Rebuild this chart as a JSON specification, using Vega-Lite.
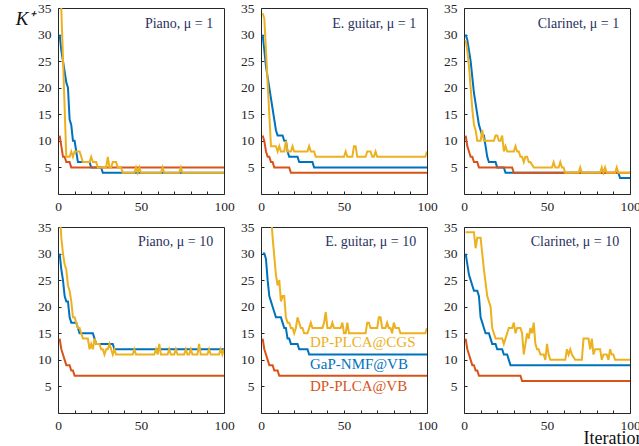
{
  "$schema": "https://vega.github.io/schema/vega-lite/v6.json",
  "padding": {"left": 14, "top": 0, "right": 0, "bottom": 0},
  "background": "white",
  "config": {
    "font": "Liberation Serif",
    "view": {"stroke": "#262626", "strokeWidth": 1},
    "axis": {"grid": false, "domain": false, "ticks": true, "tickColor": "#262626", "tickSize": -3, "labelColor": "#262626", "labelFont": "Liberation Serif", "labelFontSize": 13.5, "labelFlush": false, "labelOverlap": false, "labelBound": false, "title": null, "labelPadding": 10},
    "axisX": {"labelPadding": 8},
    "line": {"strokeWidth": 2, "clip": true},
    "text": {"font": "Liberation Serif"}
  },
  "datasets": {
    "k": [
      {"p":1,"s":"GaP","x":1,"y":30},{"p":1,"s":"GaP","x":2,"y":27},{"p":1,"s":"GaP","x":3,"y":25},{"p":1,"s":"GaP","x":4,"y":23},{"p":1,"s":"GaP","x":5,"y":21},{"p":1,"s":"GaP","x":6,"y":20},{"p":1,"s":"GaP","x":7,"y":14},{"p":1,"s":"GaP","x":8,"y":13},{"p":1,"s":"GaP","x":9,"y":10},{"p":1,"s":"GaP","x":10,"y":10},{"p":1,"s":"GaP","x":11,"y":8},{"p":1,"s":"GaP","x":12,"y":6},{"p":1,"s":"GaP","x":19,"y":6},{"p":1,"s":"GaP","x":20,"y":5},{"p":1,"s":"GaP","x":26,"y":5},{"p":1,"s":"GaP","x":27,"y":4},{"p":1,"s":"GaP","x":100,"y":4},
      {"p":1,"s":"VB","x":1,"y":11},{"p":1,"s":"VB","x":2,"y":9},{"p":1,"s":"VB","x":3,"y":7},{"p":1,"s":"VB","x":4,"y":7},{"p":1,"s":"VB","x":5,"y":6},{"p":1,"s":"VB","x":7,"y":6},{"p":1,"s":"VB","x":8,"y":5},{"p":1,"s":"VB","x":100,"y":5},
      {"p":1,"s":"CGS","x":1,"y":44},{"p":1,"s":"CGS","x":5,"y":7},{"p":1,"s":"CGS","x":7,"y":7},{"p":1,"s":"CGS","x":8,"y":8},{"p":1,"s":"CGS","x":9,"y":7},{"p":1,"s":"CGS","x":10,"y":8},{"p":1,"s":"CGS","x":13,"y":8},{"p":1,"s":"CGS","x":14,"y":7},{"p":1,"s":"CGS","x":15,"y":6},{"p":1,"s":"CGS","x":19,"y":6},{"p":1,"s":"CGS","x":20,"y":7},{"p":1,"s":"CGS","x":21,"y":6},{"p":1,"s":"CGS","x":23,"y":6},{"p":1,"s":"CGS","x":24,"y":5},{"p":1,"s":"CGS","x":29,"y":5},{"p":1,"s":"CGS","x":30,"y":7},{"p":1,"s":"CGS","x":31,"y":5},{"p":1,"s":"CGS","x":32,"y":5},{"p":1,"s":"CGS","x":33,"y":6},{"p":1,"s":"CGS","x":35,"y":6},{"p":1,"s":"CGS","x":36,"y":5},{"p":1,"s":"CGS","x":38,"y":5},{"p":1,"s":"CGS","x":39,"y":4},{"p":1,"s":"CGS","x":46,"y":4},{"p":1,"s":"CGS","x":47,"y":5},{"p":1,"s":"CGS","x":48,"y":4},{"p":1,"s":"CGS","x":49,"y":5},{"p":1,"s":"CGS","x":50,"y":4},{"p":1,"s":"CGS","x":62,"y":4},{"p":1,"s":"CGS","x":63,"y":5},{"p":1,"s":"CGS","x":64,"y":4},{"p":1,"s":"CGS","x":73,"y":4},{"p":1,"s":"CGS","x":74,"y":5},{"p":1,"s":"CGS","x":75,"y":4},{"p":1,"s":"CGS","x":100,"y":4},

      {"p":2,"s":"GaP","x":1,"y":30},{"p":2,"s":"GaP","x":2,"y":27},{"p":2,"s":"GaP","x":3,"y":24},{"p":2,"s":"GaP","x":4,"y":22},{"p":2,"s":"GaP","x":5,"y":20},{"p":2,"s":"GaP","x":6,"y":18},{"p":2,"s":"GaP","x":7,"y":16},{"p":2,"s":"GaP","x":8,"y":14},{"p":2,"s":"GaP","x":9,"y":12},{"p":2,"s":"GaP","x":10,"y":11},{"p":2,"s":"GaP","x":13,"y":11},{"p":2,"s":"GaP","x":14,"y":10},{"p":2,"s":"GaP","x":15,"y":10},{"p":2,"s":"GaP","x":16,"y":8},{"p":2,"s":"GaP","x":17,"y":7},{"p":2,"s":"GaP","x":22,"y":7},{"p":2,"s":"GaP","x":23,"y":6},{"p":2,"s":"GaP","x":31,"y":6},{"p":2,"s":"GaP","x":32,"y":5},{"p":2,"s":"GaP","x":100,"y":5},
      {"p":2,"s":"VB","x":1,"y":11},{"p":2,"s":"VB","x":2,"y":10},{"p":2,"s":"VB","x":3,"y":8},{"p":2,"s":"VB","x":4,"y":7},{"p":2,"s":"VB","x":5,"y":7},{"p":2,"s":"VB","x":6,"y":6},{"p":2,"s":"VB","x":7,"y":6},{"p":2,"s":"VB","x":8,"y":5},{"p":2,"s":"VB","x":17,"y":5},{"p":2,"s":"VB","x":18,"y":4},{"p":2,"s":"VB","x":100,"y":4},
      {"p":2,"s":"CGS","x":1,"y":34},{"p":2,"s":"CGS","x":2,"y":33},{"p":2,"s":"CGS","x":6,"y":9},{"p":2,"s":"CGS","x":9,"y":9},{"p":2,"s":"CGS","x":10,"y":8},{"p":2,"s":"CGS","x":11,"y":9},{"p":2,"s":"CGS","x":12,"y":8},{"p":2,"s":"CGS","x":14,"y":8},{"p":2,"s":"CGS","x":15,"y":10},{"p":2,"s":"CGS","x":16,"y":8},{"p":2,"s":"CGS","x":18,"y":8},{"p":2,"s":"CGS","x":19,"y":9},{"p":2,"s":"CGS","x":20,"y":8},{"p":2,"s":"CGS","x":28,"y":8},{"p":2,"s":"CGS","x":29,"y":9},{"p":2,"s":"CGS","x":30,"y":8},{"p":2,"s":"CGS","x":32,"y":8},{"p":2,"s":"CGS","x":33,"y":7},{"p":2,"s":"CGS","x":50,"y":7},{"p":2,"s":"CGS","x":51,"y":8},{"p":2,"s":"CGS","x":52,"y":7},{"p":2,"s":"CGS","x":55,"y":7},{"p":2,"s":"CGS","x":56,"y":9},{"p":2,"s":"CGS","x":57,"y":9},{"p":2,"s":"CGS","x":58,"y":7},{"p":2,"s":"CGS","x":63,"y":7},{"p":2,"s":"CGS","x":64,"y":8},{"p":2,"s":"CGS","x":66,"y":8},{"p":2,"s":"CGS","x":67,"y":7},{"p":2,"s":"CGS","x":68,"y":7},{"p":2,"s":"CGS","x":69,"y":8},{"p":2,"s":"CGS","x":70,"y":7},{"p":2,"s":"CGS","x":99,"y":7},{"p":2,"s":"CGS","x":100,"y":8},

      {"p":3,"s":"GaP","x":1,"y":30},{"p":3,"s":"GaP","x":2,"y":29},{"p":3,"s":"GaP","x":3,"y":27},{"p":3,"s":"GaP","x":4,"y":25},{"p":3,"s":"GaP","x":5,"y":22},{"p":3,"s":"GaP","x":6,"y":19},{"p":3,"s":"GaP","x":7,"y":17},{"p":3,"s":"GaP","x":8,"y":15},{"p":3,"s":"GaP","x":9,"y":13},{"p":3,"s":"GaP","x":10,"y":12},{"p":3,"s":"GaP","x":11,"y":11},{"p":3,"s":"GaP","x":12,"y":11},{"p":3,"s":"GaP","x":13,"y":9},{"p":3,"s":"GaP","x":14,"y":7},{"p":3,"s":"GaP","x":15,"y":6},{"p":3,"s":"GaP","x":19,"y":6},{"p":3,"s":"GaP","x":20,"y":5},{"p":3,"s":"GaP","x":24,"y":5},{"p":3,"s":"GaP","x":25,"y":4},{"p":3,"s":"GaP","x":93,"y":4},{"p":3,"s":"GaP","x":94,"y":3},{"p":3,"s":"GaP","x":100,"y":3},
      {"p":3,"s":"VB","x":1,"y":11},{"p":3,"s":"VB","x":2,"y":9},{"p":3,"s":"VB","x":3,"y":8},{"p":3,"s":"VB","x":4,"y":7},{"p":3,"s":"VB","x":5,"y":7},{"p":3,"s":"VB","x":6,"y":6},{"p":3,"s":"VB","x":8,"y":6},{"p":3,"s":"VB","x":9,"y":5},{"p":3,"s":"VB","x":29,"y":5},{"p":3,"s":"VB","x":30,"y":4},{"p":3,"s":"VB","x":100,"y":4},
      {"p":3,"s":"CGS","x":1,"y":29},{"p":3,"s":"CGS","x":2,"y":27},{"p":3,"s":"CGS","x":3,"y":24},{"p":3,"s":"CGS","x":4,"y":20},{"p":3,"s":"CGS","x":5,"y":16},{"p":3,"s":"CGS","x":6,"y":13},{"p":3,"s":"CGS","x":7,"y":12},{"p":3,"s":"CGS","x":8,"y":10},{"p":3,"s":"CGS","x":10,"y":10},{"p":3,"s":"CGS","x":11,"y":12},{"p":3,"s":"CGS","x":12,"y":10},{"p":3,"s":"CGS","x":18,"y":10},{"p":3,"s":"CGS","x":19,"y":11},{"p":3,"s":"CGS","x":20,"y":11},{"p":3,"s":"CGS","x":21,"y":10},{"p":3,"s":"CGS","x":22,"y":10},{"p":3,"s":"CGS","x":23,"y":11},{"p":3,"s":"CGS","x":24,"y":8},{"p":3,"s":"CGS","x":25,"y":9},{"p":3,"s":"CGS","x":26,"y":8},{"p":3,"s":"CGS","x":30,"y":8},{"p":3,"s":"CGS","x":31,"y":9},{"p":3,"s":"CGS","x":32,"y":8},{"p":3,"s":"CGS","x":33,"y":8},{"p":3,"s":"CGS","x":34,"y":7},{"p":3,"s":"CGS","x":35,"y":7},{"p":3,"s":"CGS","x":36,"y":6},{"p":3,"s":"CGS","x":37,"y":7},{"p":3,"s":"CGS","x":38,"y":7},{"p":3,"s":"CGS","x":39,"y":6},{"p":3,"s":"CGS","x":40,"y":6},{"p":3,"s":"CGS","x":42,"y":5},{"p":3,"s":"CGS","x":53,"y":5},{"p":3,"s":"CGS","x":54,"y":6},{"p":3,"s":"CGS","x":55,"y":5},{"p":3,"s":"CGS","x":57,"y":5},{"p":3,"s":"CGS","x":58,"y":6},{"p":3,"s":"CGS","x":59,"y":5},{"p":3,"s":"CGS","x":60,"y":5},{"p":3,"s":"CGS","x":61,"y":4},{"p":3,"s":"CGS","x":69,"y":4},{"p":3,"s":"CGS","x":70,"y":5},{"p":3,"s":"CGS","x":71,"y":4},{"p":3,"s":"CGS","x":82,"y":4},{"p":3,"s":"CGS","x":83,"y":5},{"p":3,"s":"CGS","x":84,"y":4},{"p":3,"s":"CGS","x":85,"y":5},{"p":3,"s":"CGS","x":86,"y":4},{"p":3,"s":"CGS","x":91,"y":4},{"p":3,"s":"CGS","x":92,"y":5},{"p":3,"s":"CGS","x":93,"y":4},{"p":3,"s":"CGS","x":100,"y":4},

      {"p":4,"s":"GaP","x":1,"y":30},{"p":4,"s":"GaP","x":2,"y":27},{"p":4,"s":"GaP","x":3,"y":25},{"p":4,"s":"GaP","x":4,"y":22},{"p":4,"s":"GaP","x":5,"y":21},{"p":4,"s":"GaP","x":6,"y":21},{"p":4,"s":"GaP","x":7,"y":18},{"p":4,"s":"GaP","x":8,"y":17},{"p":4,"s":"GaP","x":11,"y":17},{"p":4,"s":"GaP","x":12,"y":16},{"p":4,"s":"GaP","x":13,"y":15},{"p":4,"s":"GaP","x":21,"y":15},{"p":4,"s":"GaP","x":22,"y":14},{"p":4,"s":"GaP","x":23,"y":13},{"p":4,"s":"GaP","x":33,"y":13},{"p":4,"s":"GaP","x":34,"y":12},{"p":4,"s":"GaP","x":100,"y":12},
      {"p":4,"s":"VB","x":1,"y":14},{"p":4,"s":"VB","x":2,"y":12},{"p":4,"s":"VB","x":3,"y":11},{"p":4,"s":"VB","x":4,"y":10},{"p":4,"s":"VB","x":5,"y":9},{"p":4,"s":"VB","x":7,"y":9},{"p":4,"s":"VB","x":8,"y":8},{"p":4,"s":"VB","x":9,"y":8},{"p":4,"s":"VB","x":10,"y":7},{"p":4,"s":"VB","x":100,"y":7},
      {"p":4,"s":"CGS","x":1,"y":38},{"p":4,"s":"CGS","x":2,"y":33},{"p":4,"s":"CGS","x":3,"y":30},{"p":4,"s":"CGS","x":4,"y":28},{"p":4,"s":"CGS","x":5,"y":27},{"p":4,"s":"CGS","x":6,"y":24},{"p":4,"s":"CGS","x":7,"y":23},{"p":4,"s":"CGS","x":8,"y":21},{"p":4,"s":"CGS","x":9,"y":18},{"p":4,"s":"CGS","x":10,"y":18},{"p":4,"s":"CGS","x":11,"y":17},{"p":4,"s":"CGS","x":12,"y":16},{"p":4,"s":"CGS","x":13,"y":16},{"p":4,"s":"CGS","x":14,"y":15},{"p":4,"s":"CGS","x":15,"y":14},{"p":4,"s":"CGS","x":18,"y":14},{"p":4,"s":"CGS","x":19,"y":12},{"p":4,"s":"CGS","x":20,"y":13},{"p":4,"s":"CGS","x":21,"y":12},{"p":4,"s":"CGS","x":22,"y":14},{"p":4,"s":"CGS","x":23,"y":13},{"p":4,"s":"CGS","x":25,"y":13},{"p":4,"s":"CGS","x":26,"y":12},{"p":4,"s":"CGS","x":27,"y":12},{"p":4,"s":"CGS","x":28,"y":11},{"p":4,"s":"CGS","x":29,"y":12},{"p":4,"s":"CGS","x":30,"y":12},{"p":4,"s":"CGS","x":31,"y":13},{"p":4,"s":"CGS","x":32,"y":12},{"p":4,"s":"CGS","x":33,"y":11},{"p":4,"s":"CGS","x":34,"y":12},{"p":4,"s":"CGS","x":35,"y":11},{"p":4,"s":"CGS","x":45,"y":11},{"p":4,"s":"CGS","x":46,"y":12},{"p":4,"s":"CGS","x":47,"y":11},{"p":4,"s":"CGS","x":58,"y":11},{"p":4,"s":"CGS","x":59,"y":12},{"p":4,"s":"CGS","x":60,"y":11},{"p":4,"s":"CGS","x":61,"y":13},{"p":4,"s":"CGS","x":62,"y":11},{"p":4,"s":"CGS","x":66,"y":11},{"p":4,"s":"CGS","x":67,"y":12},{"p":4,"s":"CGS","x":68,"y":11},{"p":4,"s":"CGS","x":70,"y":11},{"p":4,"s":"CGS","x":71,"y":12},{"p":4,"s":"CGS","x":72,"y":11},{"p":4,"s":"CGS","x":76,"y":11},{"p":4,"s":"CGS","x":77,"y":12},{"p":4,"s":"CGS","x":78,"y":11},{"p":4,"s":"CGS","x":79,"y":11},{"p":4,"s":"CGS","x":80,"y":12},{"p":4,"s":"CGS","x":81,"y":11},{"p":4,"s":"CGS","x":84,"y":11},{"p":4,"s":"CGS","x":85,"y":13},{"p":4,"s":"CGS","x":86,"y":11},{"p":4,"s":"CGS","x":90,"y":11},{"p":4,"s":"CGS","x":91,"y":12},{"p":4,"s":"CGS","x":92,"y":11},{"p":4,"s":"CGS","x":97,"y":11},{"p":4,"s":"CGS","x":98,"y":12},{"p":4,"s":"CGS","x":99,"y":11},{"p":4,"s":"CGS","x":100,"y":12},

      {"p":5,"s":"GaP","x":1,"y":30},{"p":5,"s":"GaP","x":2,"y":30},{"p":5,"s":"GaP","x":3,"y":29},{"p":5,"s":"GaP","x":4,"y":25},{"p":5,"s":"GaP","x":5,"y":22},{"p":5,"s":"GaP","x":6,"y":21},{"p":5,"s":"GaP","x":7,"y":20},{"p":5,"s":"GaP","x":8,"y":19},{"p":5,"s":"GaP","x":9,"y":18},{"p":5,"s":"GaP","x":12,"y":18},{"p":5,"s":"GaP","x":13,"y":17},{"p":5,"s":"GaP","x":14,"y":16},{"p":5,"s":"GaP","x":15,"y":16},{"p":5,"s":"GaP","x":16,"y":14},{"p":5,"s":"GaP","x":17,"y":14},{"p":5,"s":"GaP","x":18,"y":13},{"p":5,"s":"GaP","x":22,"y":13},{"p":5,"s":"GaP","x":23,"y":12},{"p":5,"s":"GaP","x":28,"y":12},{"p":5,"s":"GaP","x":29,"y":11},{"p":5,"s":"GaP","x":100,"y":11},
      {"p":5,"s":"VB","x":1,"y":14},{"p":5,"s":"VB","x":2,"y":12},{"p":5,"s":"VB","x":3,"y":11},{"p":5,"s":"VB","x":4,"y":10},{"p":5,"s":"VB","x":5,"y":9},{"p":5,"s":"VB","x":7,"y":9},{"p":5,"s":"VB","x":8,"y":8},{"p":5,"s":"VB","x":10,"y":8},{"p":5,"s":"VB","x":11,"y":7},{"p":5,"s":"VB","x":100,"y":7},
      {"p":5,"s":"CGS","x":5,"y":42},{"p":5,"s":"CGS","x":7,"y":33},{"p":5,"s":"CGS","x":9,"y":26},{"p":5,"s":"CGS","x":10,"y":24},{"p":5,"s":"CGS","x":11,"y":25},{"p":5,"s":"CGS","x":12,"y":21},{"p":5,"s":"CGS","x":13,"y":22},{"p":5,"s":"CGS","x":14,"y":22},{"p":5,"s":"CGS","x":15,"y":18},{"p":5,"s":"CGS","x":16,"y":17},{"p":5,"s":"CGS","x":17,"y":17},{"p":5,"s":"CGS","x":18,"y":16},{"p":5,"s":"CGS","x":19,"y":16},{"p":5,"s":"CGS","x":20,"y":15},{"p":5,"s":"CGS","x":21,"y":16},{"p":5,"s":"CGS","x":22,"y":18},{"p":5,"s":"CGS","x":23,"y":17},{"p":5,"s":"CGS","x":24,"y":16},{"p":5,"s":"CGS","x":25,"y":16},{"p":5,"s":"CGS","x":26,"y":15},{"p":5,"s":"CGS","x":28,"y":15},{"p":5,"s":"CGS","x":29,"y":16},{"p":5,"s":"CGS","x":30,"y":17},{"p":5,"s":"CGS","x":31,"y":16},{"p":5,"s":"CGS","x":37,"y":16},{"p":5,"s":"CGS","x":38,"y":17},{"p":5,"s":"CGS","x":39,"y":19},{"p":5,"s":"CGS","x":40,"y":16},{"p":5,"s":"CGS","x":42,"y":16},{"p":5,"s":"CGS","x":43,"y":17},{"p":5,"s":"CGS","x":44,"y":16},{"p":5,"s":"CGS","x":48,"y":16},{"p":5,"s":"CGS","x":49,"y":17},{"p":5,"s":"CGS","x":50,"y":15},{"p":5,"s":"CGS","x":51,"y":15},{"p":5,"s":"CGS","x":52,"y":17},{"p":5,"s":"CGS","x":53,"y":15},{"p":5,"s":"CGS","x":63,"y":15},{"p":5,"s":"CGS","x":64,"y":17},{"p":5,"s":"CGS","x":65,"y":17},{"p":5,"s":"CGS","x":66,"y":16},{"p":5,"s":"CGS","x":70,"y":16},{"p":5,"s":"CGS","x":71,"y":18},{"p":5,"s":"CGS","x":72,"y":18},{"p":5,"s":"CGS","x":73,"y":16},{"p":5,"s":"CGS","x":75,"y":16},{"p":5,"s":"CGS","x":76,"y":17},{"p":5,"s":"CGS","x":77,"y":16},{"p":5,"s":"CGS","x":78,"y":16},{"p":5,"s":"CGS","x":79,"y":15},{"p":5,"s":"CGS","x":80,"y":17},{"p":5,"s":"CGS","x":81,"y":16},{"p":5,"s":"CGS","x":83,"y":16},{"p":5,"s":"CGS","x":84,"y":15},{"p":5,"s":"CGS","x":99,"y":15},{"p":5,"s":"CGS","x":100,"y":16},

      {"p":6,"s":"GaP","x":1,"y":30},{"p":6,"s":"GaP","x":2,"y":28},{"p":6,"s":"GaP","x":3,"y":26},{"p":6,"s":"GaP","x":4,"y":25},{"p":6,"s":"GaP","x":5,"y":24},{"p":6,"s":"GaP","x":6,"y":23},{"p":6,"s":"GaP","x":8,"y":23},{"p":6,"s":"GaP","x":9,"y":22},{"p":6,"s":"GaP","x":10,"y":18},{"p":6,"s":"GaP","x":11,"y":17},{"p":6,"s":"GaP","x":12,"y":16},{"p":6,"s":"GaP","x":13,"y":15},{"p":6,"s":"GaP","x":15,"y":15},{"p":6,"s":"GaP","x":16,"y":14},{"p":6,"s":"GaP","x":17,"y":13},{"p":6,"s":"GaP","x":19,"y":13},{"p":6,"s":"GaP","x":20,"y":12},{"p":6,"s":"GaP","x":23,"y":12},{"p":6,"s":"GaP","x":24,"y":11},{"p":6,"s":"GaP","x":26,"y":11},{"p":6,"s":"GaP","x":27,"y":10},{"p":6,"s":"GaP","x":28,"y":9},{"p":6,"s":"GaP","x":100,"y":9},
      {"p":6,"s":"VB","x":1,"y":14},{"p":6,"s":"VB","x":2,"y":12},{"p":6,"s":"VB","x":3,"y":11},{"p":6,"s":"VB","x":4,"y":10},{"p":6,"s":"VB","x":5,"y":9},{"p":6,"s":"VB","x":6,"y":9},{"p":6,"s":"VB","x":7,"y":8},{"p":6,"s":"VB","x":8,"y":8},{"p":6,"s":"VB","x":9,"y":7},{"p":6,"s":"VB","x":34,"y":7},{"p":6,"s":"VB","x":35,"y":6},{"p":6,"s":"VB","x":100,"y":6},
      {"p":6,"s":"CGS","x":1,"y":34},{"p":6,"s":"CGS","x":6,"y":34},{"p":6,"s":"CGS","x":7,"y":31},{"p":6,"s":"CGS","x":8,"y":33},{"p":6,"s":"CGS","x":10,"y":33},{"p":6,"s":"CGS","x":12,"y":27},{"p":6,"s":"CGS","x":14,"y":22},{"p":6,"s":"CGS","x":16,"y":20},{"p":6,"s":"CGS","x":17,"y":16},{"p":6,"s":"CGS","x":18,"y":15},{"p":6,"s":"CGS","x":19,"y":14},{"p":6,"s":"CGS","x":23,"y":14},{"p":6,"s":"CGS","x":24,"y":13},{"p":6,"s":"CGS","x":25,"y":14},{"p":6,"s":"CGS","x":26,"y":15},{"p":6,"s":"CGS","x":27,"y":16},{"p":6,"s":"CGS","x":29,"y":16},{"p":6,"s":"CGS","x":30,"y":17},{"p":6,"s":"CGS","x":31,"y":15},{"p":6,"s":"CGS","x":32,"y":16},{"p":6,"s":"CGS","x":34,"y":16},{"p":6,"s":"CGS","x":35,"y":15},{"p":6,"s":"CGS","x":36,"y":11},{"p":6,"s":"CGS","x":37,"y":13},{"p":6,"s":"CGS","x":38,"y":15},{"p":6,"s":"CGS","x":39,"y":14},{"p":6,"s":"CGS","x":40,"y":16},{"p":6,"s":"CGS","x":41,"y":15},{"p":6,"s":"CGS","x":42,"y":17},{"p":6,"s":"CGS","x":43,"y":13},{"p":6,"s":"CGS","x":44,"y":12},{"p":6,"s":"CGS","x":45,"y":12},{"p":6,"s":"CGS","x":46,"y":11},{"p":6,"s":"CGS","x":48,"y":11},{"p":6,"s":"CGS","x":49,"y":10},{"p":6,"s":"CGS","x":50,"y":13},{"p":6,"s":"CGS","x":51,"y":11},{"p":6,"s":"CGS","x":52,"y":10},{"p":6,"s":"CGS","x":61,"y":10},{"p":6,"s":"CGS","x":62,"y":12},{"p":6,"s":"CGS","x":63,"y":11},{"p":6,"s":"CGS","x":64,"y":12},{"p":6,"s":"CGS","x":65,"y":11},{"p":6,"s":"CGS","x":67,"y":10},{"p":6,"s":"CGS","x":71,"y":10},{"p":6,"s":"CGS","x":72,"y":14},{"p":6,"s":"CGS","x":75,"y":14},{"p":6,"s":"CGS","x":76,"y":12},{"p":6,"s":"CGS","x":77,"y":14},{"p":6,"s":"CGS","x":78,"y":11},{"p":6,"s":"CGS","x":79,"y":12},{"p":6,"s":"CGS","x":82,"y":12},{"p":6,"s":"CGS","x":83,"y":10},{"p":6,"s":"CGS","x":84,"y":11},{"p":6,"s":"CGS","x":86,"y":11},{"p":6,"s":"CGS","x":87,"y":10},{"p":6,"s":"CGS","x":88,"y":12},{"p":6,"s":"CGS","x":89,"y":11},{"p":6,"s":"CGS","x":90,"y":11},{"p":6,"s":"CGS","x":91,"y":10},{"p":6,"s":"CGS","x":100,"y":10}
    ]
  },
  "data": {"name": "k"},
  "spacing": 6,
  "vconcat": [
    {
      "spacing": 37,
      "bounds": "flush",
      "hconcat": [
        {
          "width": 166, "height": 186,
          "layer": [
            {
              "transform": [{"filter": "datum.p == 1"}],
              "mark": {"type": "line", "clip": true, "strokeWidth": 2},
              "encoding": {
                "x": {"field": "x", "type": "quantitative", "scale": {"domain": [0, 100], "nice": false}, "axis": {"values": [0,10,20,30,40,50,60,70,80,90,100], "tickCount": 30, "labelOverlap": false, "labelExpr": "(datum.value == 0 || datum.value == 50 || datum.value == 100) ? datum.label : ''"}},
                "y": {"field": "y", "type": "quantitative", "scale": {"domain": [0, 35], "nice": false}, "axis": {"values": [5,10,15,20,25,30,35], "tickCount": 30, "labelOverlap": false, "title": "K⁺", "titleAngle": 0, "titleFont": "Liberation Serif", "titleFontStyle": "italic", "titleFontWeight": "normal", "titleFontSize": 19, "titleColor": "#111111", "titleAlign": "right", "titleBaseline": "middle", "titleX": -24, "titleY": 10}},
                "color": {"field": "s", "type": "nominal", "scale": {"domain": ["GaP", "VB", "CGS"], "range": ["#0072BD", "#D95319", "#EDB120"]}, "legend": null}
              }
            },
            {
              "data": {"values": [{"t": "Piano, μ = 1", "x": 93.5, "y": 32}]},
              "mark": {"type": "text", "align": "right", "baseline": "middle", "fontSize": 14, "color": "#2b3160"},
              "encoding": {"x": {"field": "x", "type": "quantitative"}, "y": {"field": "y", "type": "quantitative"}, "text": {"field": "t"}}
            }
          ]
        },
        {
          "width": 166, "height": 186,
          "layer": [
            {
              "transform": [{"filter": "datum.p == 2"}],
              "mark": {"type": "line", "clip": true, "strokeWidth": 2},
              "encoding": {
                "x": {"field": "x", "type": "quantitative", "scale": {"domain": [0, 100], "nice": false}, "axis": {"values": [0,10,20,30,40,50,60,70,80,90,100], "tickCount": 30, "labelOverlap": false, "labelExpr": "(datum.value == 0 || datum.value == 50 || datum.value == 100) ? datum.label : ''"}},
                "y": {"field": "y", "type": "quantitative", "scale": {"domain": [0, 35], "nice": false}, "axis": {"values": [5,10,15,20,25,30,35], "tickCount": 30, "labelOverlap": false}},
                "color": {"field": "s", "type": "nominal", "scale": {"domain": ["GaP", "VB", "CGS"], "range": ["#0072BD", "#D95319", "#EDB120"]}, "legend": null}
              }
            },
            {
              "data": {"values": [{"t": "E. guitar, μ = 1", "x": 93.5, "y": 32}]},
              "mark": {"type": "text", "align": "right", "baseline": "middle", "fontSize": 14, "color": "#2b3160"},
              "encoding": {"x": {"field": "x", "type": "quantitative"}, "y": {"field": "y", "type": "quantitative"}, "text": {"field": "t"}}
            }
          ]
        },
        {
          "width": 166, "height": 186,
          "layer": [
            {
              "transform": [{"filter": "datum.p == 3"}],
              "mark": {"type": "line", "clip": true, "strokeWidth": 2},
              "encoding": {
                "x": {"field": "x", "type": "quantitative", "scale": {"domain": [0, 100], "nice": false}, "axis": {"values": [0,10,20,30,40,50,60,70,80,90,100], "tickCount": 30, "labelOverlap": false, "labelExpr": "(datum.value == 0 || datum.value == 50 || datum.value == 100) ? datum.label : ''"}},
                "y": {"field": "y", "type": "quantitative", "scale": {"domain": [0, 35], "nice": false}, "axis": {"values": [5,10,15,20,25,30,35], "tickCount": 30, "labelOverlap": false}},
                "color": {"field": "s", "type": "nominal", "scale": {"domain": ["GaP", "VB", "CGS"], "range": ["#0072BD", "#D95319", "#EDB120"]}, "legend": null}
              }
            },
            {
              "data": {"values": [{"t": "Clarinet, μ = 1", "x": 93.5, "y": 32}]},
              "mark": {"type": "text", "align": "right", "baseline": "middle", "fontSize": 14, "color": "#2b3160"},
              "encoding": {"x": {"field": "x", "type": "quantitative"}, "y": {"field": "y", "type": "quantitative"}, "text": {"field": "t"}}
            }
          ]
        }
      ]
    },
    {
      "spacing": 37,
      "bounds": "flush",
      "hconcat": [
        {
          "width": 166, "height": 186,
          "layer": [
            {
              "transform": [{"filter": "datum.p == 4"}],
              "mark": {"type": "line", "clip": true, "strokeWidth": 2},
              "encoding": {
                "x": {"field": "x", "type": "quantitative", "scale": {"domain": [0, 100], "nice": false}, "axis": {"values": [0,10,20,30,40,50,60,70,80,90,100], "tickCount": 30, "labelOverlap": false, "labelExpr": "(datum.value == 0 || datum.value == 50 || datum.value == 100) ? datum.label : ''"}},
                "y": {"field": "y", "type": "quantitative", "scale": {"domain": [0, 35], "nice": false}, "axis": {"values": [5,10,15,20,25,30,35], "tickCount": 30, "labelOverlap": false}},
                "color": {"field": "s", "type": "nominal", "scale": {"domain": ["GaP", "VB", "CGS"], "range": ["#0072BD", "#D95319", "#EDB120"]}, "legend": null}
              }
            },
            {
              "data": {"values": [{"t": "Piano, μ = 10", "x": 93.5, "y": 32.2}]},
              "mark": {"type": "text", "align": "right", "baseline": "middle", "fontSize": 14, "color": "#2b3160"},
              "encoding": {"x": {"field": "x", "type": "quantitative"}, "y": {"field": "y", "type": "quantitative"}, "text": {"field": "t"}}
            }
          ]
        },
        {
          "width": 166, "height": 186,
          "layer": [
            {
              "transform": [{"filter": "datum.p == 5"}],
              "mark": {"type": "line", "clip": true, "strokeWidth": 2},
              "encoding": {
                "x": {"field": "x", "type": "quantitative", "scale": {"domain": [0, 100], "nice": false}, "axis": {"values": [0,10,20,30,40,50,60,70,80,90,100], "tickCount": 30, "labelOverlap": false, "labelExpr": "(datum.value == 0 || datum.value == 50 || datum.value == 100) ? datum.label : ''"}},
                "y": {"field": "y", "type": "quantitative", "scale": {"domain": [0, 35], "nice": false}, "axis": {"values": [5,10,15,20,25,30,35], "tickCount": 30, "labelOverlap": false}},
                "color": {"field": "s", "type": "nominal", "scale": {"domain": ["GaP", "VB", "CGS"], "range": ["#0072BD", "#D95319", "#EDB120"]}, "legend": null}
              }
            },
            {
              "data": {"values": [{"t": "E. guitar, μ = 10", "x": 93.5, "y": 32.2}]},
              "mark": {"type": "text", "align": "right", "baseline": "middle", "fontSize": 14, "color": "#2b3160"},
              "encoding": {"x": {"field": "x", "type": "quantitative"}, "y": {"field": "y", "type": "quantitative"}, "text": {"field": "t"}}
            },
            {
              "data": {"values": [
                {"t": "DP-PLCA@CGS", "x": 29.5, "y": 13.4, "s": "CGS"},
                {"t": "GaP-NMF@VB", "x": 29.5, "y": 9.3, "s": "GaP"},
                {"t": "DP-PLCA@VB", "x": 29.5, "y": 5.0, "s": "VB"}
              ]},
              "mark": {"type": "text", "align": "left", "baseline": "middle", "fontSize": 15},
              "encoding": {"x": {"field": "x", "type": "quantitative"}, "y": {"field": "y", "type": "quantitative"}, "text": {"field": "t"}, "color": {"field": "s", "type": "nominal", "scale": {"domain": ["GaP", "VB", "CGS"], "range": ["#0072BD", "#D95319", "#EDB120"]}, "legend": null}}
            }
          ]
        },
        {
          "width": 166, "height": 186,
          "layer": [
            {
              "transform": [{"filter": "datum.p == 6"}],
              "mark": {"type": "line", "clip": true, "strokeWidth": 2},
              "encoding": {
                "x": {"field": "x", "type": "quantitative", "scale": {"domain": [0, 100], "nice": false}, "axis": {"values": [0,10,20,30,40,50,60,70,80,90,100], "tickCount": 30, "labelOverlap": false, "labelExpr": "(datum.value == 0 || datum.value == 50 || datum.value == 100) ? datum.label : ''", "title": "Iteration", "titleFont": "Liberation Serif", "titleFontSize": 18, "titleFontWeight": "normal", "titleColor": "#111111", "titleAlign": "right", "titleBaseline": "middle", "titleX": 180, "titleY": 25}},
                "y": {"field": "y", "type": "quantitative", "scale": {"domain": [0, 35], "nice": false}, "axis": {"values": [5,10,15,20,25,30,35], "tickCount": 30, "labelOverlap": false}},
                "color": {"field": "s", "type": "nominal", "scale": {"domain": ["GaP", "VB", "CGS"], "range": ["#0072BD", "#D95319", "#EDB120"]}, "legend": null}
              }
            },
            {
              "data": {"values": [{"t": "Clarinet, μ = 10", "x": 93.5, "y": 32.2}]},
              "mark": {"type": "text", "align": "right", "baseline": "middle", "fontSize": 14, "color": "#2b3160"},
              "encoding": {"x": {"field": "x", "type": "quantitative"}, "y": {"field": "y", "type": "quantitative"}, "text": {"field": "t"}}
            }
          ]
        }
      ]
    }
  ]
}
